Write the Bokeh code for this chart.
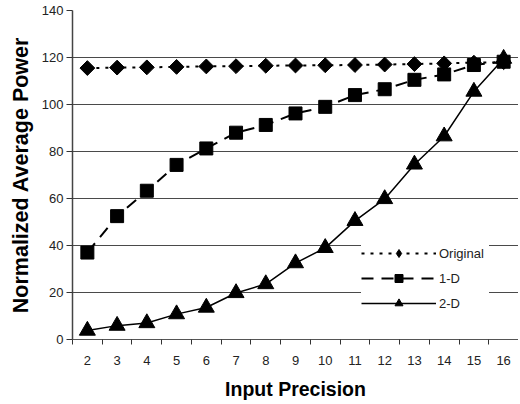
from bokeh.plotting import figure
from bokeh.models import FixedTicker, Range1d, Legend, LegendItem
from bokeh.embed import file_html
from bokeh.resources import INLINE
import math

precision = [2, 3, 4, 5, 6, 7, 8, 9, 10, 11, 12, 13, 14, 15, 16]
original = [115.5, 115.7, 115.8, 116.0, 116.2, 116.3, 116.5, 116.6, 116.7, 116.8, 117.0, 117.2, 117.5, 117.8, 118.0]
one_d = [37.0, 52.5, 63.3, 74.3, 81.3, 88.0, 91.3, 96.2, 99.0, 104.0, 106.5, 110.5, 112.8, 116.8, 118.2]
two_d = [3.8, 5.9, 7.0, 10.8, 13.6, 19.8, 23.6, 32.5, 39.0, 50.5, 59.8, 74.5, 86.5, 105.5, 119.5]
y_ticks = [0, 20, 40, 60, 80, 100, 120, 140]

p = figure(width=518, height=402, output_backend="svg", toolbar_location=None,
           x_range=Range1d(1.5, 16.5), y_range=Range1d(0, 140),
           min_border_left=72, min_border_right=0, min_border_top=10, min_border_bottom=58)
p.outline_line_color = None
p.background_fill_color = "white"

# grid
p.xgrid.visible = False
p.ygrid.ticker = FixedTicker(ticks=y_ticks)
p.ygrid.grid_line_color = "#4a4a4a"
p.ygrid.grid_line_width = 1

# axes
p.xaxis.ticker = FixedTicker(ticks=precision, minor_ticks=[v - 0.5 for v in precision] + [16.5])
p.xaxis.major_tick_out = 0
p.xaxis.major_tick_in = 0
p.xaxis.minor_tick_out = 5
p.xaxis.minor_tick_in = 0
p.xaxis.minor_tick_line_color = "#333333"
p.xaxis.axis_line_color = "#555555"
p.xaxis.major_label_text_font = "Liberation Sans"
p.xaxis.major_label_text_font_size = "13px"
p.xaxis.major_label_text_color = "#222222"
p.xaxis.major_label_standoff = 11
p.xaxis.axis_label = "Input Precision"
p.xaxis.axis_label_text_font = "Liberation Sans"
p.xaxis.axis_label_text_font_style = "bold"
p.xaxis.axis_label_text_font_size = "19.5px"
p.xaxis.axis_label_text_color = "black"
p.xaxis.axis_label_standoff = 10

p.yaxis.ticker = FixedTicker(ticks=y_ticks)
p.yaxis.minor_tick_line_color = None
p.yaxis.major_tick_out = 6
p.yaxis.major_tick_in = 0
p.yaxis.major_tick_line_color = "#333333"
p.yaxis.axis_line_color = "#444444"
p.yaxis.axis_line_width = 1.5
p.yaxis.major_label_text_font = "Liberation Sans"
p.yaxis.major_label_text_font_size = "13px"
p.yaxis.major_label_text_color = "#222222"
p.yaxis.major_label_standoff = 3
p.yaxis.axis_label = "Normalized Average Power"
p.yaxis.axis_label_text_font = "Liberation Sans"
p.yaxis.axis_label_text_font_style = "bold"
p.yaxis.axis_label_text_font_size = "21.5px"
p.yaxis.axis_label_text_color = "black"
p.yaxis.axis_label_standoff = 6

# series
l0 = p.line(precision, original, line_color="black", line_width=2, line_dash="3 6")
m0 = p.scatter(precision, original, marker="square", angle=math.pi / 4, size=10.5,
               fill_color="black", line_color="black")
l1 = p.line(precision, one_d, line_color="black", line_width=2, line_dash="12 8")
m1 = p.scatter(precision, one_d, marker="square", size=13, fill_color="black", line_color="black")
l2 = p.line(precision, two_d, line_color="black", line_width=1.5)
m2 = p.scatter(precision, two_d, marker="triangle", size=16, fill_color="black", line_color="black")

# legend glyphs (smaller markers)
lm0 = p.scatter([precision[0]], [original[0]], marker="diamond", size=11,
                fill_color="black", line_color="black", visible=False)
lm1 = p.scatter([precision[0]], [one_d[0]], marker="square", size=9, fill_color="black",
                line_color="black", visible=False)
lm2 = p.scatter([precision[0]], [two_d[0]], marker="triangle", size=10, fill_color="black",
                line_color="black", visible=False)

legend = Legend(items=[
    LegendItem(label="Original", renderers=[l0, lm0]),
    LegendItem(label="1-D", renderers=[l1, lm1]),
    LegendItem(label="2-D", renderers=[l2, lm2]),
], location=(289, 26))
legend.glyph_width = 75
legend.glyph_height = 20
legend.spacing = 5
legend.padding = 6
legend.margin = 0
legend.label_standoff = 3
legend.label_width = 50
legend.label_text_font = "Liberation Sans"
legend.label_text_font_size = "13px"
legend.label_text_color = "#222222"
legend.border_line_color = None
legend.background_fill_color = "white"
legend.background_fill_alpha = 1.0
p.add_layout(legend, "center")

open("out.html", "w").write(file_html(p, INLINE))
